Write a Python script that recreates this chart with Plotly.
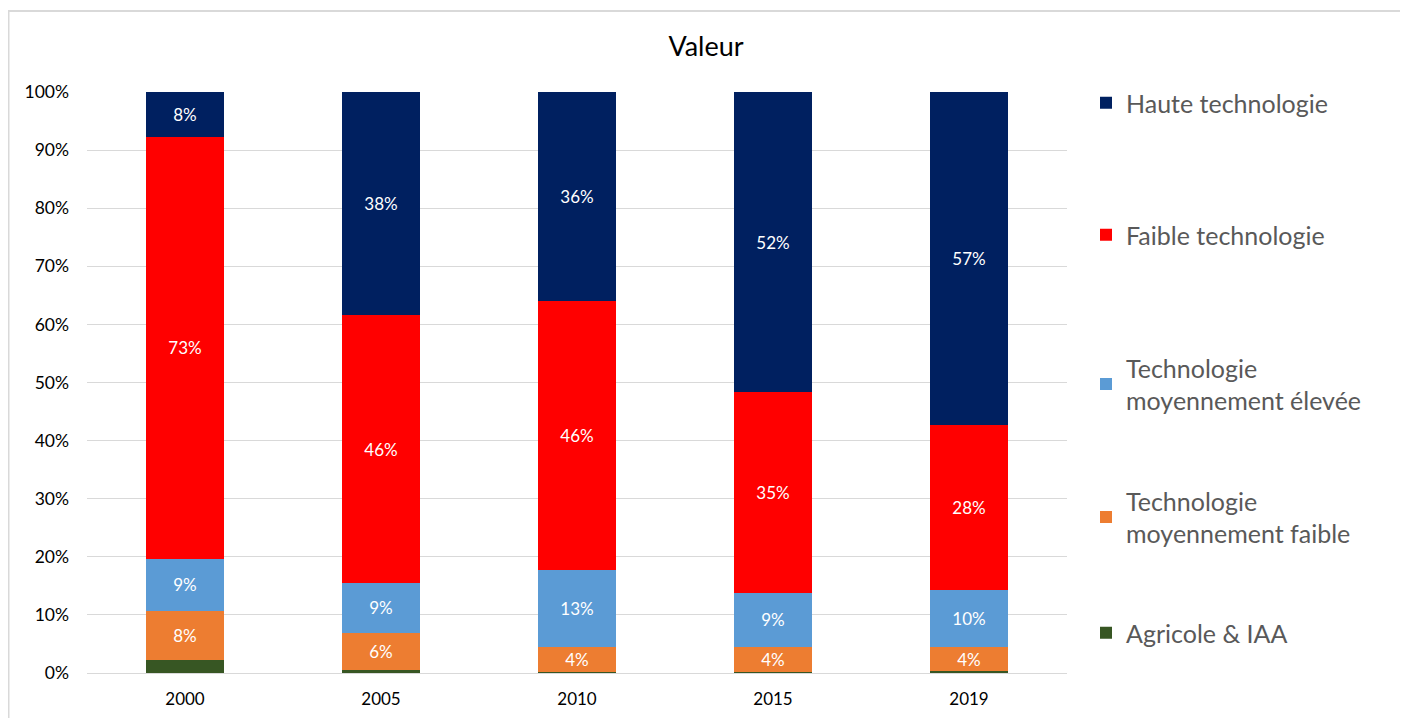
import plotly.graph_objects as go

years = ["2000", "2005", "2010", "2015", "2019"]
agricole = [2.2, 0.5, 0.1, 0.1, 0.3]
moy_faible = [8.4, 6.4, 4.4, 4.4, 4.2]
moy_elevee = [9.1, 8.6, 13.3, 9.3, 9.8]
faible = [72.6, 46.1, 46.2, 34.5, 28.4]
haute = [7.7, 38.4, 36.0, 51.7, 57.3]

series = [
    ("Agricole & IAA", agricole, "#375623", False),
    ("Technologie<br>moyennement faible", moy_faible, "#ED7D31", True),
    ("Technologie<br>moyennement élevée", moy_elevee, "#5B9BD5", True),
    ("Faible technologie", faible, "#FF0000", True),
    ("Haute technologie", haute, "#002060", True),
]
# legend item vertical centres (figure px), bottom series first
legend_centres = [625, 509, 376, 227, 95]

W, H = 1400, 710
L, R, T, B = 79, 1059, 84, 665
pw, ph = R - L, B - T

fig = go.Figure()
legends = {}
for i, (name, vals, color, lab) in enumerate(series):
    lname = "legend" if i == 0 else f"legend{i + 1}"
    fig.add_trace(go.Bar(
        x=years, y=vals, name=name, marker_color=color,
        marker_line_width=0, width=0.4,
        legend=lname,
        texttemplate="%{y:.0f}%" if lab else "",
        textposition="inside", insidetextanchor="middle", textangle=0,
        insidetextfont=dict(color="white", size=17, family="Lato"),
        constraintext="none",
    ))
    legends[lname] = dict(
        xref="container", yref="container",
        x=1078 / W, y=1 - legend_centres[i] / H, xanchor="left", yanchor="middle",
        font=dict(size=25, color="#595959", family="Lato"),
        bgcolor="rgba(0,0,0,0)", itemwidth=30,
    )

fig.update_layout(
    width=W, height=H, barmode="stack",
    margin=dict(l=L, r=W - R, t=T, b=H - B, autoexpand=False),
    paper_bgcolor="white", plot_bgcolor="white",
    font=dict(family="Lato", color="#404040"),
    title=dict(text="Valeur", x=698 / W, xref="container", y=1 - 39 / H, yref="container",
               xanchor="center", yanchor="middle", font=dict(size=27, color="#000000", family="Lato")),
    xaxis=dict(showgrid=False, showline=True, linecolor="#d9d9d9", linewidth=1, automargin=False,
               tickfont=dict(size=17, color="#000000"), ticks="", ticklabelstandoff=11),
    yaxis=dict(range=[0, 100], dtick=10, ticksuffix="%", showgrid=True, gridcolor="#d9d9d9",
               gridwidth=1, zeroline=False, tickfont=dict(size=17.5, color="#000000"),
               ticklabelstandoff=17, automargin=False),
    showlegend=True,
    **legends,
)

fig.add_shape(type="rect", xref="paper", yref="paper",
              x0=(0.5 - L) / pw, x1=(1395 - L) / pw,
              y0=(B - 720) / ph, y1=(B - 3) / ph,
              line=dict(color="#d9d9d9", width=2), fillcolor="rgba(0,0,0,0)", layer="below")

fig.write_html("out.html")
